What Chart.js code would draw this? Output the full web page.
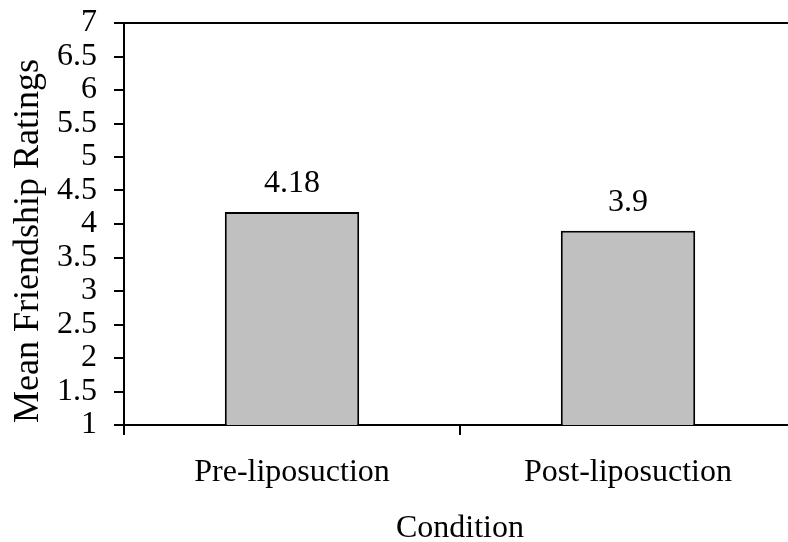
<!DOCTYPE html>
<html>
<head>
<meta charset="utf-8">
<script src="https://cdn.jsdelivr.net/npm/chart.js@4/dist/chart.umd.min.js"></script>
<style>
  html, body { margin: 0; padding: 0; background: #fff; overflow: hidden; }
  #wrap { width: 800px; height: 542px; }
</style>
</head>
<body>
<div id="wrap"><canvas id="chart" width="800" height="542"></canvas></div>
<script>
// chart data
const conditions = ['Pre-liposuction', 'Post-liposuction'];
const meanRatings = [4.18, 3.9];
const yTitle = 'Mean Friendship Ratings';
const xTitle = 'Condition';

const serif = '"Liberation Serif", "Times New Roman", serif';

//draws the top frame line, the value labels and the y title
const extrasPlugin = {
  id: 'extras',
  afterDraw(chart) {
    const ctx = chart.ctx;
    const area = chart.chartArea;
    ctx.save();
    ctx.strokeStyle = '#000';
    ctx.lineWidth = 2;
    ctx.beginPath();
    ctx.moveTo(area.left - 10, area.top);
    ctx.lineTo(area.right + 10, area.top);
    ctx.stroke();

    ctx.fillStyle = '#000';
    ctx.font = '32px ' + serif;
    ctx.textAlign = 'center';
    ctx.textBaseline = 'alphabetic';
    chart.getDatasetMeta(0).data.forEach((bar, i) => {
      ctx.fillText(String(meanRatings[i]), bar.x, bar.y - 20);
    });

    ctx.font = '36px ' + serif;
    ctx.translate(38, 241);
    ctx.rotate(-Math.PI / 2);
    ctx.fillText(yTitle, 0, 0);
    ctx.restore();
  }
};

new Chart(document.getElementById('chart'), {
  type: 'bar',
  data: {
    labels: conditions,
    datasets: [{
      data: meanRatings,
      backgroundColor: '#c0c0c0',
      borderColor: '#000',
      borderWidth: 2,
      borderSkipped: false,
      barPercentage: 0.4,
      categoryPercentage: 1
    }]
  },
  options: {
    responsive: false,
    animation: false,
    devicePixelRatio: 1,
    layout: { padding: { top: 23, right: 4, left: 0, bottom: 0 } },
    plugins: {
      legend: { display: false },
      tooltip: { enabled: false }
    },
    scales: {
      x: {
        grid: { offset: true, drawOnChartArea: false, color: '#000', lineWidth: 2, tickLength: 10 },
        border: { color: '#000', width: 2 },
        ticks: { color: '#000', font: { family: serif, size: 32 }, padding: 18 },
        title: { display: true, text: xTitle, color: '#000', font: { family: serif, size: 32 }, padding: { top: 18, bottom: -6 } },
        afterFit(scale) {
          scale.height = 117;
          scale.paddingLeft = 0;
          scale.paddingRight = 0;
        }
      },
      y: {
        min: 1,
        max: 7,
        grid: { drawOnChartArea: false, color: '#000', lineWidth: 2, tickLength: 10 },
        border: { color: '#000', width: 2 },
        ticks: {
          stepSize: 0.5,
          autoSkip: false,
          color: '#000',
          padding: 17,
          font: { family: serif, size: 32 },
          callback: (v) => String(v)
        },
        afterFit(scale) {
          scale.width = 124;
          scale.paddingTop = 0;
          scale.paddingBottom = 0;
        }
      }
    }
  },
  plugins: [extrasPlugin]
});
</script>
</body>
</html>
